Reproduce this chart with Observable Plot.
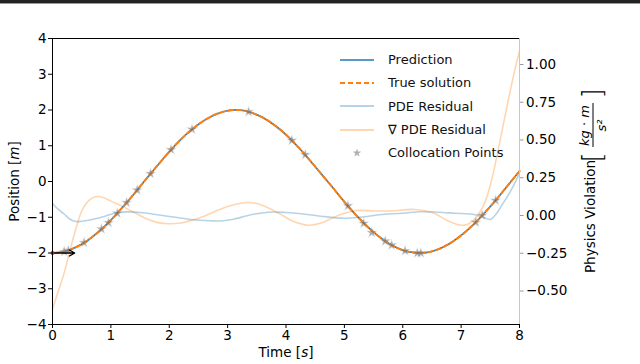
<!DOCTYPE html>
<html><head><meta charset="utf-8">
<script src="https://cdn.jsdelivr.net/npm/d3@7"></script>
<script src="https://cdn.jsdelivr.net/npm/@observablehq/plot@0.6"></script>
<style>
body{margin:0;background:#fff;font-family:"DejaVu Sans",sans-serif;}
#wrap{position:relative;width:640px;height:364px;overflow:hidden;background:#fff}
#topbar{position:absolute;left:0;top:0;width:640px;height:3px;background:#222;border-bottom:1px solid #999}
#legend{position:absolute;left:340px;top:48px;font-size:13px;color:#111;font-family:"DejaVu Sans",sans-serif}
.row{height:23.3px;display:flex;align-items:center;white-space:nowrap}
.row svg{width:34px;height:12px;margin-right:14px;flex:none}
</style></head><body>
<div id="wrap"><div id="chart"></div><div id="topbar"></div><div id="legend"></div></div>
<script>
// ---- data ----
const posT = [0,0.2,0.4,0.6,0.8,1.0,1.2,1.4,1.6,1.8,2.0,2.2,2.4,2.6,2.8,3.0,3.2,3.4,3.6,3.8,4.0,4.2,4.4,4.6,4.8,5.0,5.2,5.4,5.6,5.8,6.0,6.2,6.4,6.6,6.8,7.0,7.2,7.4,7.6,7.8,8.0];
const prediction = [-2.00,-1.96,-1.84,-1.65,-1.39,-1.08,-0.72,-0.34,0.06,0.45,0.83,1.18,1.47,1.71,1.88,1.98,2.00,1.93,1.79,1.58,1.31,0.98,0.61,0.22,-0.17,-0.57,-0.94,-1.27,-1.55,-1.77,-1.92,-1.99,-1.99,-1.90,-1.74,-1.51,-1.22,-0.88,-0.51,-0.11,0.29];
const trueSolution = [-2.00,-1.96,-1.84,-1.65,-1.39,-1.08,-0.72,-0.34,0.06,0.45,0.83,1.18,1.47,1.71,1.88,1.98,2.00,1.93,1.79,1.58,1.31,0.98,0.61,0.22,-0.17,-0.57,-0.94,-1.27,-1.55,-1.77,-1.92,-1.99,-1.99,-1.90,-1.74,-1.51,-1.22,-0.88,-0.51,-0.11,0.29];

const pdeT = [0,0.1,0.2,0.3,0.4,0.5,0.7,0.9,1.1,1.3,1.5,1.8,2.1,2.4,2.7,2.9,3.1,3.4,3.7,4.0,4.3,4.6,5.0,5.3,5.6,6.0,6.3,6.6,6.9,7.2,7.4,7.5,7.6,7.7,7.8,7.9,8.0];
const pdeResidual = [0.08,0.04,0.01,-0.025,-0.04,-0.038,-0.025,-0.005,0.018,0.024,0.02,0.005,-0.012,-0.028,-0.035,-0.036,-0.025,0.005,0.022,0.02,0.01,-0.005,-0.018,-0.01,0.005,0.015,0.025,0.022,0.015,0.008,-0.015,-0.026,0.01,0.07,0.13,0.2,0.28];

const gradT = [0,0.1,0.2,0.3,0.4,0.5,0.6,0.7,0.8,0.9,1.0,1.2,1.4,1.6,1.8,2.0,2.2,2.4,2.6,2.8,3.0,3.2,3.35,3.5,3.7,3.9,4.1,4.3,4.4,4.6,4.8,5.0,5.2,5.5,5.8,6.2,6.5,6.8,7.0,7.1,7.2,7.3,7.4,7.5,7.6,7.7,7.8,7.9,8.0];
const gradResidual = [-0.62,-0.50,-0.38,-0.23,-0.09,0.03,0.09,0.12,0.126,0.115,0.095,0.06,0.02,-0.02,-0.047,-0.055,-0.05,-0.03,-0.005,0.03,0.06,0.08,0.086,0.08,0.05,0.01,-0.035,-0.06,-0.065,-0.05,-0.015,0.015,0.033,0.03,0.03,0.04,0.02,-0.04,-0.065,-0.06,-0.035,0.01,0.08,0.2,0.37,0.56,0.75,0.93,1.09];

const colT = [0.2,0.27,0.54,0.84,0.96,1.11,1.27,1.45,1.68,2.03,2.39,3.36,4.1,4.33,5.06,5.33,5.47,5.7,5.81,6.04,6.25,6.31,7.25,7.36,7.59];
const colPos = [-1.96,-1.93,-1.71,-1.33,-1.15,-0.89,-0.59,-0.24,0.22,0.89,1.46,1.95,1.15,0.75,-0.68,-1.17,-1.43,-1.67,-1.78,-1.94,-2.00,-2.00,-1.14,-0.95,-0.53];

const arrowFrom = [0, -2];
const arrowTo = [0.38, -2];

const xTicks = [0,1,2,3,4,5,6,7,8];
const yTicks = [-4,-3,-2,-1,0,1,2,3,4];
const rightTicks = [1.00,0.75,0.50,0.25,0.00,-0.25,-0.50];
const rightLabels = ["1.00","0.75","0.50","0.25","0.00","\u22120.25","\u22120.50"];
const legendLabels = ["Prediction","True solution","PDE Residual","\u2207 PDE Residual","Collocation Points"];

// secondary (right) axis: value -> position-scale units
const toPos = v => v * 4.224 - 0.951;

const BLUE = "#1f77b4", ORANGE = "#ff7f0e";
const minus = d => d < 0 ? "\u2212" + (-d) : String(d);

const chart = Plot.plot({
  width: 640, height: 364,
  marginLeft: 52, marginRight: 121, marginTop: 38, marginBottom: 40,
  style: {fontFamily: "DejaVu Sans, sans-serif", fontSize: "13.5px", background: "white", color: "black", overflow: "visible"},
  x: {domain: [0, 8]},
  y: {domain: [-4, 4]},
  marks: [
    Plot.line(pdeT, {x: pdeT, y: pdeResidual.map(toPos), stroke: BLUE, strokeOpacity: 0.32, strokeWidth: 1.6, curve: "catmull-rom", clip: true}),
    Plot.line(gradT, {x: gradT, y: gradResidual.map(toPos), stroke: ORANGE, strokeOpacity: 0.32, strokeWidth: 1.6, curve: "catmull-rom", clip: true}),
    Plot.line(posT, {x: posT, y: prediction, stroke: BLUE, strokeWidth: 1.6, curve: "catmull-rom"}),
    Plot.line(posT, {x: posT, y: trueSolution, stroke: ORANGE, strokeWidth: 2, strokeDasharray: "5,3", curve: "catmull-rom"}),
    Plot.dot(colT, {x: colT, y: colPos, symbol: "star", r: 2.6, fill: "#666", fillOpacity: 0.5, stroke: "#999", strokeOpacity: 0.3, strokeWidth: 1.2}),
    Plot.arrow([0], {x1: [arrowFrom[0]], y1: [arrowFrom[1]], x2: [arrowTo[0]], y2: [arrowTo[1]], stroke: "black", strokeWidth: 1.3, headLength: 7, bend: 0}),
    Plot.dot([0], {x: [arrowFrom[0]], y: [arrowFrom[1]], r: 2, fill: "#e0102f"}),
    Plot.ruleX([8], {stroke: "#c8c8c8"}),
    Plot.ruleX([0], {stroke: "black"}),
    Plot.ruleY([-4], {stroke: "black"}),
    Plot.ruleY([4], {stroke: "black"}),
    Plot.axisX({ticks: xTicks, tickSize: 4, tickPadding: 2, label: null, tickFormat: minus}),
    Plot.axisY({ticks: yTicks, tickSize: 4, tickPadding: 2, label: null, tickFormat: minus}),
    Plot.axisY({anchor: "right", ticks: rightTicks.map(toPos), tickSize: 3.5, tickPadding: 3, label: null, stroke: "#999", fill: "black",
      tickFormat: d => rightLabels[rightTicks.findIndex(v => Math.abs(toPos(v) - d) < 1e-6)]}),
    Plot.text(["Position [m]"], {frameAnchor: "left", textAnchor: "middle", dx: -38, rotate: -90, fontSize: 13.5}),
    Plot.text(["Time [s]"], {frameAnchor: "bottom", textAnchor: "middle", dy: 32, fontSize: 13.5}),
    Plot.text(["Physics Violation"], {frameAnchor: "right", textAnchor: "middle", dx: 71, dy: 35, rotate: -90, fontSize: 13.5}),
    Plot.text(["kg \u00b7 m"], {frameAnchor: "right", textAnchor: "middle", dx: 65, dy: -56, rotate: -90, fontSize: 13, fontStyle: "italic"}),
    Plot.text(["s\u00b2"], {frameAnchor: "right", textAnchor: "middle", dx: 82, dy: -56, rotate: -90, fontSize: 13, fontStyle: "italic"}),
    Plot.text(["["], {frameAnchor: "right", textAnchor: "middle", dx: 73, dy: -24, rotate: -90, fontSize: 26, fontWeight: 200}),
    Plot.text(["]"], {frameAnchor: "right", textAnchor: "middle", dx: 73, dy: -88, rotate: -90, fontSize: 26, fontWeight: 200})
  ]
});
document.getElementById("chart").appendChild(chart);

// italic unit letters and fraction bar
d3.select(chart).selectAll("text").each(function() {
  const s = this.textContent;
  if (s === "Position [m]") this.innerHTML = 'Position [<tspan font-style="italic">m</tspan>]';
  if (s === "Time [s]") this.innerHTML = 'Time [<tspan font-style="italic">s</tspan>]';
  if (s === "kg \u00b7 m") this.innerHTML = '<tspan font-style="italic">kg</tspan><tspan font-style="normal"> \u00b7 </tspan><tspan font-style="italic">m</tspan>';
});
const xs = chart.scale("x");
d3.select(chart).append("line")
  .attr("x1", xs.range[1] + 74).attr("x2", xs.range[1] + 74)
  .attr("y1", 103).attr("y2", 147)
  .attr("stroke", "black").attr("stroke-width", 1);

// legend
const leg = d3.select("#legend");
const styles = [
  {stroke: BLUE, op: 1, w: 1.6},
  {stroke: ORANGE, op: 1, w: 2, dash: "5,3"},
  {stroke: BLUE, op: 0.32, w: 1.8},
  {stroke: ORANGE, op: 0.32, w: 1.8},
  {star: true}
];
legendLabels.forEach((lab, i) => {
  const row = leg.append("div").attr("class", "row");
  const s = row.append("svg").attr("viewBox", "0 0 34 12");
  const st = styles[i];
  if (st.star) {
    s.append("path").attr("d", d3.symbol(d3.symbolStar, 16)()).attr("transform", "translate(17,6)")
      .attr("fill", "#666").attr("fill-opacity", 0.5).attr("stroke", "#999").attr("stroke-opacity", 0.3);
  } else {
    s.append("line").attr("x1", 0).attr("x2", 34).attr("y1", 6).attr("y2", 6)
      .attr("stroke", st.stroke).attr("stroke-opacity", st.op).attr("stroke-width", st.w)
      .attr("stroke-dasharray", st.dash || null);
  }
  row.append("span").text(lab);
});
</script>
</body></html>
